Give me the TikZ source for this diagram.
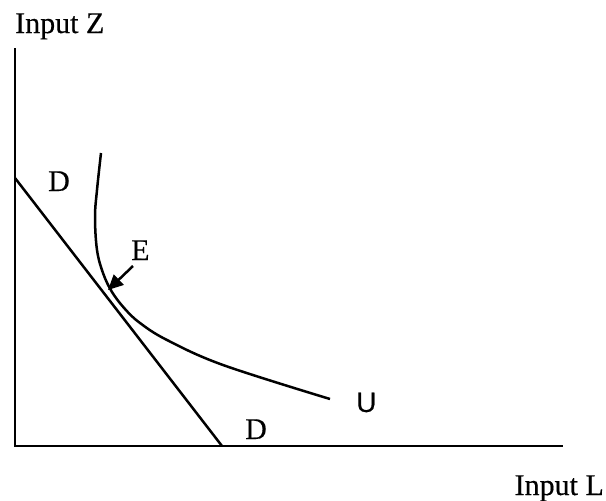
\documentclass[tikz,border=0pt]{standalone}
\usepackage{fontspec}
\setmainfont{Liberation Serif}[FakeBold=0.4]
\newfontfamily\labsans{Liberation Sans}[FakeBold=0.4]
\usetikzlibrary{arrows.meta}
\begin{document}
\begin{tikzpicture}[x=1pt,y=-1pt,
  axis/.style={line width=2.5pt},
  curve/.style={line width=2.5pt},
  lbl/.style={inner sep=0pt,anchor=base west,font=\fontsize{30}{33}\selectfont},
  ptr/.style={line width=2.5pt,-{Triangle[length=15pt,width=14pt]}}]
\useasboundingbox (0,0) rectangle (606,501);
% axes
\coordinate (top) at (15,48);
\coordinate (origin) at (15,446);
\coordinate (right) at (563,446);
\draw[axis] (top) -- (origin) -- (right);
% budget line D
\coordinate (d1) at (15,178);
\coordinate (d2) at (222,446);
\draw[curve] (d1) -- (d2);
% indifference curve U
\draw[curve] plot[smooth,tension=0.6] coordinates {(101,153) (97,190) (95,217) (97,250) (103,273) (112,292) (125,309) (140,323) (167,340) (223,365) (330,399)};
% labels
\node[lbl] (zlab) at (15,33) {Input Z};
\node[lbl,anchor=base east] (llab) at (604,495) {Input L};
\node[lbl] (dup) at (48,191) {D};
\node[lbl] (dlow) at (245,439) {D};
\node[lbl] (elab) at (131,260) {E};
\node[lbl,font=\labsans\fontsize{28}{32}\selectfont] (ulab) at (356,412) {U};
% arrow to E point
\coordinate (etail) at (133,266);
\coordinate (ept) at (108,290);
\draw[ptr] (etail) -- (ept);
\end{tikzpicture}
\end{document}
